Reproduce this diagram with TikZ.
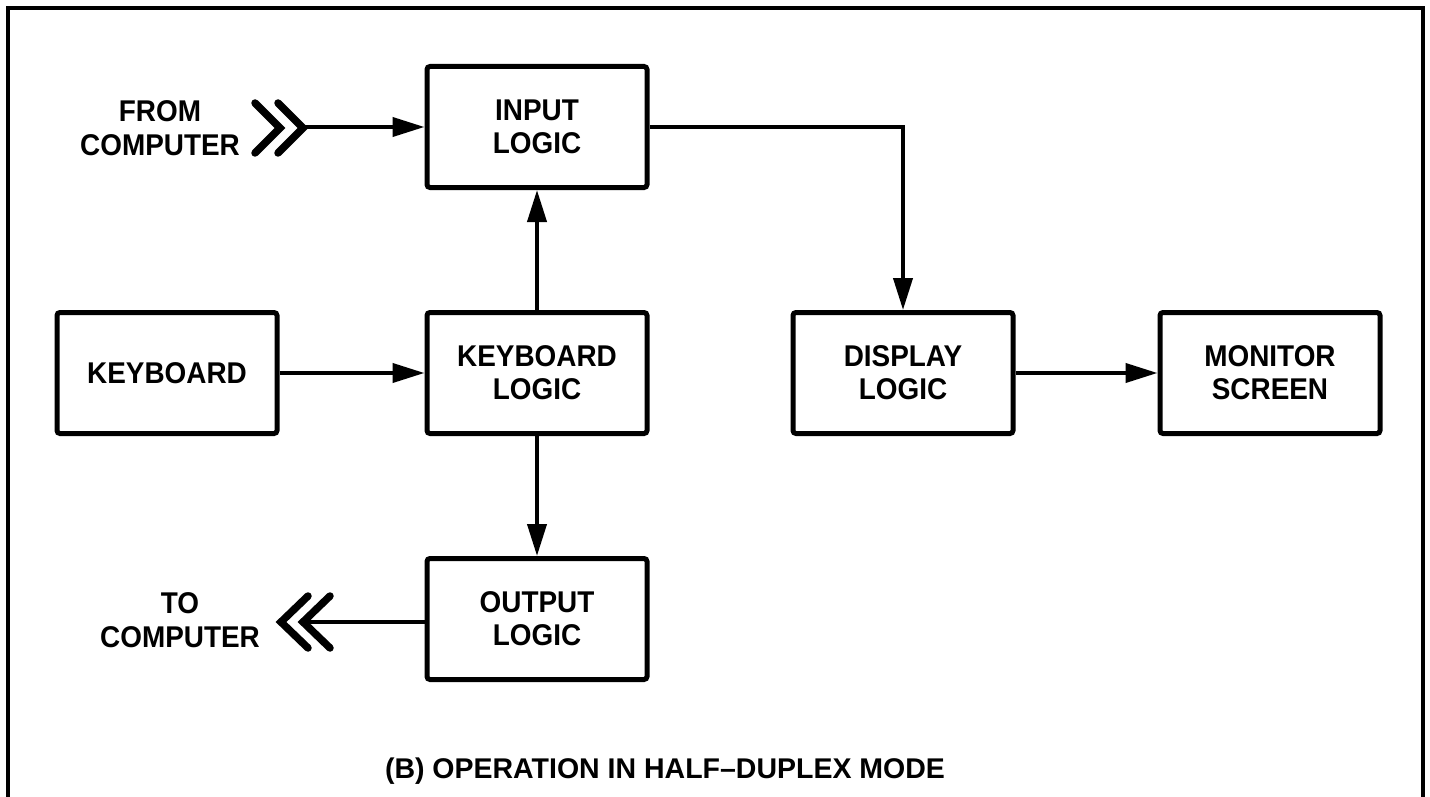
\documentclass[tikz,border=0pt]{standalone}
\usepackage{fontspec}
\setmainfont{Liberation Sans}
\newfontfamily\condfont{Liberation Sans}[FakeStretch=0.93]
\usetikzlibrary{arrows.meta}
\begin{document}
\begin{tikzpicture}[x=1pt,y=-1pt,
  blk/.style={draw, line width=5pt, rounded corners=3pt, minimum width=220pt, minimum height=121pt, inner sep=0pt, align=center, font=\condfont\fontsize{30}{33}\selectfont\bfseries},
  lbl/.style={align=center, inner sep=0pt, font=\condfont\fontsize{30}{34}\selectfont\bfseries},
  conn/.style={line width=4pt},
  arr/.style={conn, -{Triangle[length=32pt,width=19pt]}},
  chev/.style={line width=7.5pt, line cap=round, line join=miter},
  frame/.style={line width=4pt}
]
\useasboundingbox (0,0) rectangle (1430,797);
% frame
\coordinate (f1) at (8,797);
\coordinate (f2) at (8,8);
\coordinate (f3) at (1423,8);
\coordinate (f4) at (1423,797);
\draw[frame] (f1) -- (f2) -- (f3) -- (f4);

% blocks
\node[blk] (IL) at (537,127) {INPUT\\LOGIC};
\node[blk] (KB) at (167,373) {KEYBOARD};
\node[blk] (KL) at (537,373) {KEYBOARD\\LOGIC};
\node[blk] (OL) at (537,619) {OUTPUT\\LOGIC};
\node[blk] (DL) at (903,373) {DISPLAY\\LOGIC};
\node[blk] (MS) at (1270,373) {MONITOR\\SCREEN};

% external labels
\node[lbl] (FC) at (160,128) {FROM\\COMPUTER};
\node[lbl] (TC) at (180,620) {TO\\COMPUTER};
\node[lbl, font=\fontsize{28.5}{33}\selectfont\bfseries] (CAP) at (665,771) {(B) OPERATION IN HALF\textendash DUPLEX MODE};

% chevrons from computer
\draw[chev] (255,103) -- (280,128) -- (255,153);
\draw[chev] (278,103) -- (303,128) -- (278,153);
\coordinate (fc) at (303,127);
% chevrons to computer
\draw[chev] (308,596) -- (281,622) -- (308,648);
\draw[chev] (330,596) -- (303,622) -- (330,648);
\coordinate (tc) at (303,622);

% connectors
\draw[arr] (fc) -- (fc -| IL.west);
\draw[arr] (KB) -- (KL);
\draw[arr] (KL) -- (IL);
\draw[arr] (KL) -- (OL);
\draw[conn] (tc -| OL.west) -- (tc);
\draw[arr] (IL.east) -| (DL.north);
\draw[arr] (DL) -- (MS);
\end{tikzpicture}
\end{document}
